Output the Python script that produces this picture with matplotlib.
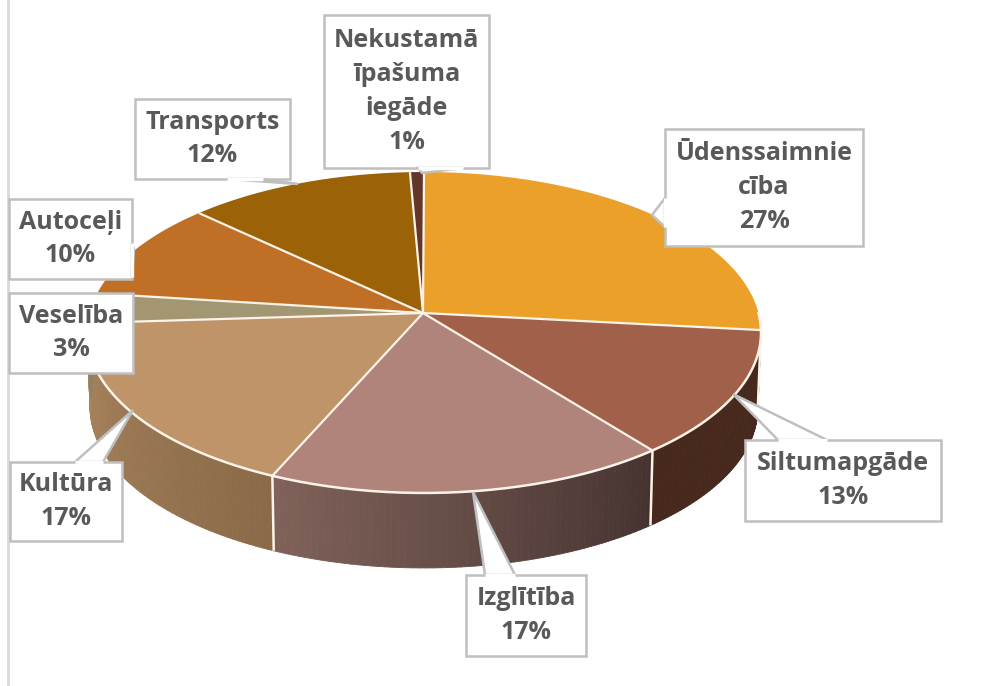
import matplotlib
matplotlib.use("Agg")
import matplotlib.pyplot as plt
import numpy as np
from matplotlib.collections import PolyCollection
from matplotlib.patches import Polygon

OUT_W, OUT_H = 1004, 686

CATEGORIES = ["Ūdenssaimnie\ncība", "Siltumapgāde", "Izglītība", "Kultūra",
              "Veselība", "Autoceļi", "Transports", "Nekustamā\nīpašuma\niegāde"]
# labels only give whole percents, slice sizes
SHARES = [26.7, 12.7, 17.2, 17.4, 3.0, 10.0, 12.25, 0.75]
TOP_COLORS = ["#EBA02A", "#A0604A", "#B0847A", "#BE9468",
              "#A39672", "#BF7026", "#9C6208", "#63362A"]
SIDE_LIGHT = ["#8A5E18", "#46281C", "#80625A", "#AA855E",
              "#8E8262", "#A5621F", "#855306", "#52291F"]
SIDE_DARK = ["#5A3A10", "#46281C", "#463330", "#8A6A48",
             "#8E8262", "#A5621F", "#855306", "#52291F"]

# label boxes: left, top, right, bottom, then the callout tail (base a, tip, base b)
BOXES = [
    (665, 129, 863, 246, (665, 198), (652, 215), (665, 227)),
    (745, 440, 941, 521, (827, 440), (733, 394), (778, 440)),
    (466, 575, 586, 656, (515, 575), (473, 492), (485, 575)),
    (10, 462, 122, 541, (75, 462), (133, 410), (103, 462)),
    (9, 293, 133, 373, (133, 293), (133, 293), (133, 293)),
    (9, 199, 132, 279, (132, 243), (134, 249), (132, 277)),
    (135, 99, 290, 179, (227, 179), (298, 184), (263, 179)),
    (324, 15, 489, 168, (418, 168), (422, 173), (463, 168)),
]

CX, CY = 424, 313
RX, RY = 334.5, 158.1
PERSP = 0.1215
DEPTH = 75
EDGE = "#FBF3E8"
BOX_EDGE = "#BFBFBF"
TEXT = "#595959"


def project(theta, drop=0.0):
    # unit circle seen from above; far side is squeezed a bit by PERSP
    x, y = np.sin(theta), np.cos(theta)
    den = 1 + PERSP * y
    shrink = 1 - 0.009 * drop / DEPTH
    return CX + shrink * RX * x / den, CY - RY * y / den + drop


def main():
    fig = plt.figure(figsize=(OUT_W / 100, OUT_H / 100), dpi=100)
    ax = fig.add_axes([0, 0, 1, 1])
    ax.set_xlim(0, OUT_W)
    ax.set_ylim(OUT_H, 0)
    ax.axis("off")

    ax.plot([8.5, 8.5], [0, OUT_H], color="#D9D9D9", lw=2, zorder=1)

    edges = 2 * np.pi * np.concatenate([[0], np.cumsum(SHARES)]) / sum(SHARES)

    # walls first, only the front half of the rim can be seen
    for i in range(len(SHARES)):
        lo, hi = max(edges[i], np.pi / 2), min(edges[i + 1], 1.5 * np.pi)
        if hi <= lo:
            continue
        ts = np.linspace(lo, hi, 60)
        quads, cols = [], []
        c0 = np.array(matplotlib.colors.to_rgb(SIDE_LIGHT[i]))
        c1 = np.array(matplotlib.colors.to_rgb(SIDE_DARK[i]))
        for j in range(len(ts) - 1):
            xa, ya = project(ts[j])
            xb, yb = project(ts[j + 1])
            xc, yc = project(ts[j + 1], DEPTH)
            xd, yd = project(ts[j], DEPTH)
            quads.append([(xa, ya), (xb, yb), (xc, yc), (xd, yd)])
            # gradient runs left to right on screen, slices go right to left
            cols.append(c1 + (c0 - c1) * j / (len(ts) - 2))
        ax.add_collection(PolyCollection(quads, facecolors=cols, edgecolors=cols,
                                         linewidths=0.6, zorder=2))
    for t in edges:
        if np.pi / 2 < t < 1.4 * np.pi:
            xt, yt = project(t)
            xb, yb = project(t, DEPTH)
            ax.plot([xt, xb], [yt, yb], color=EDGE, lw=1.8, zorder=3,
                    solid_capstyle="butt")

    # top surface
    for i in range(len(SHARES)):
        ts = np.linspace(edges[i], edges[i + 1], 120)
        xs, ys = project(ts)
        pts = np.column_stack([np.r_[CX - 1, xs], np.r_[CY, ys]])
        ax.add_patch(Polygon(pts, closed=True, facecolor=TOP_COLORS[i],
                             edgecolor="none", zorder=4))
    for i in range(len(SHARES)):
        xt, yt = project(edges[i])
        ax.plot([CX - 1, xt], [CY, yt], color=EDGE, lw=1.6, zorder=5,
                solid_capstyle="butt")
    ts = np.linspace(np.pi / 2, 1.5 * np.pi, 240)
    xs, ys = project(ts)
    ax.plot(xs, ys, color=EDGE, lw=1.8, zorder=5)

    # callout labels
    for name, share, box in zip(CATEGORIES, SHARES, BOXES):
        left, top, right, bottom, a, tip, b = box
        corners = [(left, top), (right, top), (right, bottom), (left, bottom)]
        ax.add_patch(Polygon(corners, closed=True, facecolor="white",
                             edgecolor=BOX_EDGE, lw=1.8, zorder=6))
        ax.add_patch(Polygon([a, tip, b], closed=True, facecolor="white",
                             edgecolor=BOX_EDGE, lw=1.8, zorder=6))
        # hide the tail's base where it crosses the box outline
        if a != b:
            ax.plot([a[0], b[0]], [a[1], b[1]], color="white", lw=2.4, zorder=7,
                    solid_capstyle="butt")
        ax.text((left + right) / 2, (top + bottom) / 2, f"{name}\n{round(share)}%",
                ha="center", va="center", color=TEXT, fontsize=18,
                fontweight="bold", family="Open Sans", linespacing=1.47, zorder=8)

    fig.savefig("out.png", dpi=100)


if __name__ == "__main__":
    main()
